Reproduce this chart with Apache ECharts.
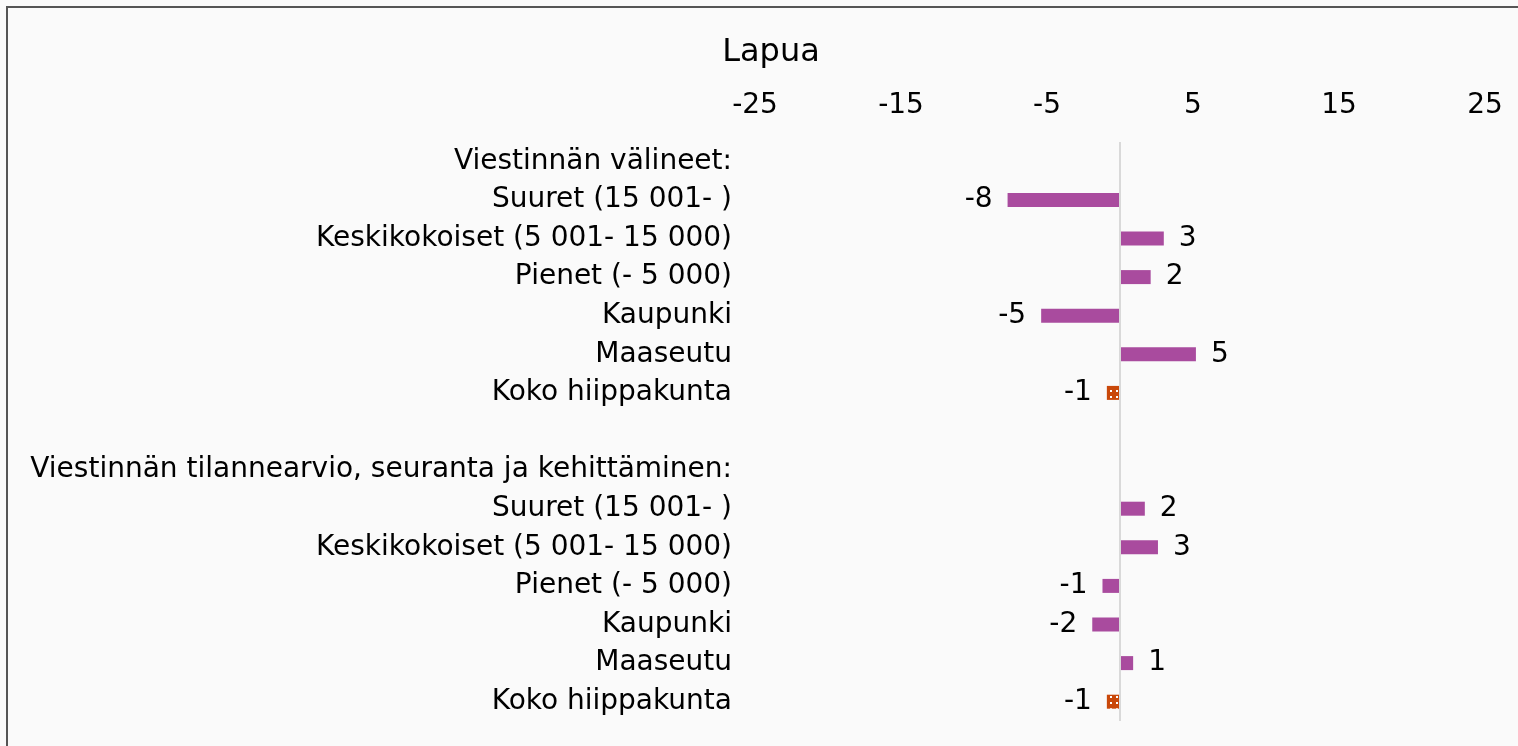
<!DOCTYPE html>
<html lang="fi">
    <head>
        <meta charset="UTF-8">
        <script src="https://cdn.jsdelivr.net/npm/echarts@6/dist/echarts.min.js"></script>
        <title>Lapua</title>
        <style>
            body { margin: 0; background: #fafafa; overflow: hidden; }
            #chart-container { position: absolute; left: 0; top: 0; width: 1518px; height: 746px; }
            /* outer frame of the picture, only the left and top edges are in view */
            #frame { position: absolute; left: 6px; top: 6px; width: 1600px; height: 800px; border-left: 2px solid #555; border-top: 2px solid #555; z-index: 10; pointer-events: none; }
        </style>
    </head>
    <body>
        <div id="chart-container"></div>
        <div id="frame"></div>

        <script>
            // rows from top to bottom, headers and the empty row have no value
            const categories = [
                'Viestinnän välineet:',
                'Suuret (15 001- )',
                'Keskikokoiset (5 001- 15 000)',
                'Pienet (- 5 000)',
                'Kaupunki',
                'Maaseutu',
                'Koko hiippakunta',
                '',
                'Viestinnän tilannearvio, seuranta ja kehittäminen:',
                'Suuret (15 001- )',
                'Keskikokoiset (5 001- 15 000)',
                'Pienet (- 5 000)',
                'Kaupunki',
                'Maaseutu',
                'Koko hiippakunta'
            ];
            const values = [null, -7.7, 3.0, 2.1, -5.4, 5.2, -0.9, null, null, 1.7, 2.6, -1.2, -1.9, 0.9, -0.9];
            const xTicks = [-25, -15, -5, 5, 15, 25];
            const totalRow = 'Koko hiippakunta';

            const purple = '#a94b9e';
            const orange = '#c9480a';
            const font = 'DejaVu Sans, Verdana, sans-serif';

            // one bar item per row, the diocese rows get the dotted orange fill
            const barData = values.map((v, i) => {
                if (v === null) return '-';
                const isTotal = categories[i] === totalRow;
                return {
                    value: v,
                    itemStyle: isTotal ? {
                        color: orange,
                        decal: { symbol: 'rect', color: '#ffffff', symbolSize: 1, dashArrayX: [2, 4], dashArrayY: [2, 4], rotation: 0 }
                    } : { color: purple },
                    label: { position: v < 0 ? 'left' : 'right' }
                };
            });

            const chart = echarts.init(document.getElementById('chart-container'));
            chart.setOption({
                backgroundColor: '#fafafa',
                animation: false,
                title: {
                    text: 'Lapua',
                    left: 766,
                    textAlign: 'center',
                    top: 32,
                    textStyle: { fontFamily: font, fontSize: 32, fontWeight: 'normal', color: '#000' }
                },
                grid: { left: 755, right: 33, top: 142, bottom: 25, containLabel: false },
                xAxis: {
                    type: 'value',
                    position: 'top',
                    min: xTicks[0],
                    max: xTicks[xTicks.length - 1],
                    interval: 10,
                    axisLine: { show: false },
                    axisTick: { show: false },
                    splitLine: { show: false },
                    axisLabel: { margin: 22, fontFamily: font, fontSize: 28, color: '#000' }
                },
                yAxis: {
                    type: 'category',
                    inverse: true,
                    data: categories,
                    axisLine: { show: false },
                    axisTick: { show: false },
                    axisLabel: { margin: 23, fontFamily: font, fontSize: 28, color: '#000', interval: 0 }
                },
                series: [{
                    type: 'bar',
                    barWidth: 14,
                    data: barData,
                    label: {
                        show: true,
                        distance: 15,
                        fontFamily: font,
                        fontSize: 28,
                        color: '#000',
                        formatter: p => Math.round(p.value)
                    },
                    markLine: {
                        silent: true,
                        symbol: 'none',
                        label: { show: false },
                        lineStyle: { color: '#d9d9d9', width: 2, type: 'solid' },
                        data: [{ xAxis: 0 }]
                    }
                }]
            });
        </script>
    </body>
</html>
